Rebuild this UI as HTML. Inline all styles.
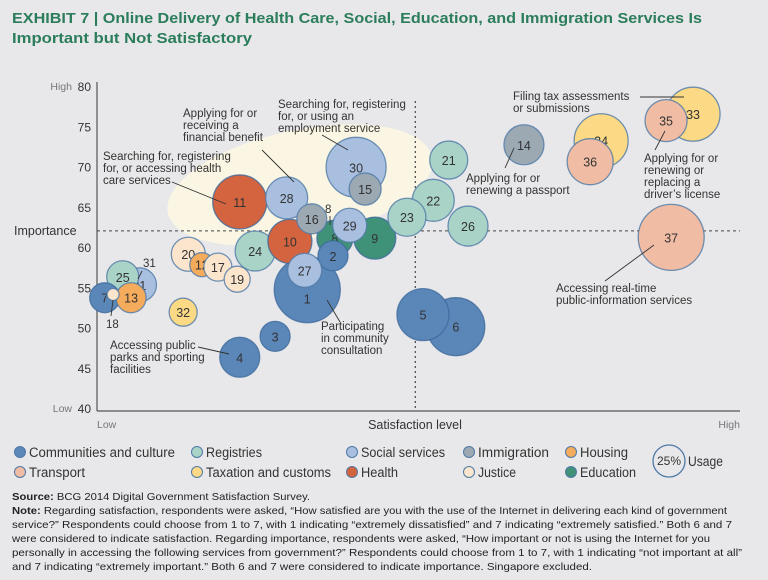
<!DOCTYPE html>
<html><head><meta charset="utf-8"><style>
body{margin:0;background:#e8e8ea;}
svg{display:block;font-family:"Liberation Sans",sans-serif;}
</style></head><body>
<svg id="chart" width="768" height="580" viewBox="0 0 768 580" xmlns="http://www.w3.org/2000/svg">
<rect width="768" height="580" fill="#e8e8ea"/>
<g fill="#2b7d5b" font-weight="bold" font-size="15">
<text x="12" y="23" textLength="690" lengthAdjust="spacingAndGlyphs">EXHIBIT 7 | Online Delivery of Health Care, Social, Education, and Immigration Services Is</text>
<text x="12" y="43" textLength="240" lengthAdjust="spacingAndGlyphs">Important but Not Satisfactory</text>
</g>
<ellipse cx="300" cy="185" rx="135" ry="55" transform="rotate(-12 300 185)" fill="#fbf6e3"/>
<g id="axes"></g>
<g id="bubbles"></g>
<g id="annot" font-size="11.5" fill="#333"></g>
<g id="legend"></g>
<g font-size="10.5" fill="#222">
<text x="12" y="500" textLength="298" lengthAdjust="spacingAndGlyphs"><tspan font-weight="bold">Source:</tspan> BCG 2014 Digital Government Satisfaction Survey.</text>
<text x="12" y="514" textLength="715" lengthAdjust="spacingAndGlyphs"><tspan font-weight="bold">Note:</tspan> Regarding satisfaction, respondents were asked, “How satisfied are you with the use of the Internet in delivering each kind of government</text>
<text x="12" y="528" textLength="720" lengthAdjust="spacingAndGlyphs">service?” Respondents could choose from 1 to 7, with 1 indicating “extremely dissatisfied” and 7 indicating “extremely satisfied.” Both 6 and 7</text>
<text x="12" y="542" textLength="698" lengthAdjust="spacingAndGlyphs">were considered to indicate satisfaction. Regarding importance, respondents were asked, “How important or not is using the Internet for you</text>
<text x="12" y="556" textLength="730" lengthAdjust="spacingAndGlyphs">personally in accessing the following services from government?” Respondents could choose from 1 to 7, with 1 indicating “not important at all”</text>
<text x="12" y="570" textLength="580" lengthAdjust="spacingAndGlyphs">and 7 indicating “extremely important.” Both 6 and 7 were considered to indicate importance. Singapore excluded.</text>
</g>
</svg>
<script>
const ids = [1,2,3,4,5,6,7,8,9,10,11,12,13,14,15,16,17,18,19,20,21,22,23,24,25,26,27,28,29,30,31,32,33,34,35,36,37];
const satisfaction = [32.7,36.7,27.7,22.2,50.7,55.8,1.2,37.0,43.2,30.0,22.2,16.3,5.3,66.4,41.7,33.4,18.8,2.5,21.8,14.2,54.7,52.3,48.2,24.6,4.0,57.7,32.3,29.5,39.3,40.3,6.6,13.4,92.7,78.4,88.5,76.7,89.3];
const importance = [54.7,58.9,48.9,46.3,51.6,50.1,53.7,61.1,61.1,60.7,65.6,57.8,53.7,72.7,67.2,63.5,57.5,54.1,56.0,59.1,70.8,65.8,63.7,59.5,56.3,62.6,57.1,66.1,62.7,69.9,55.3,51.9,76.5,73.2,75.7,70.6,61.2];
const usage = [33,15,15,20,26,29,15,18,21,22,27,12,15,20,16,15,14,6,13,17,19,21,19,20,16,20,17,21,17,30,17,14,27,27,21,23,33];
const category = ["comm","comm","comm","comm","comm","comm","comm","edu","edu","health","health","housing","housing","imm","imm","imm","justice","justice","justice","justice","reg","reg","reg","reg","reg","reg","soc","soc","soc","soc","soc","tax","tax","tax","trans","trans","trans"];
const yTicks = [40,45,50,55,60,65,70,75,80];
const catNames = ["Communities and culture","Registries","Social services","Immigration","Housing","Transport","Taxation and customs","Health","Justice","Education"];
const catKeys = ["comm","reg","soc","imm","housing","trans","tax","health","justice","edu"];
const catTextLen = [146,56,84,71,48,56,125,37,38,56];
const colors = {comm:"#5b86b8",reg:"#a9d3c6",soc:"#a9bfe0",imm:"#9ca8b2",housing:"#f4ab5c",trans:"#f0bca4",tax:"#fbd985",health:"#d4643f",justice:"#fbe5cd",edu:"#3f9178"};
const NS="http://www.w3.org/2000/svg";
const X0=97,X1=740,Y0=408,Y1=86;
const xs=v=>X0+(X1-X0)*v/100;
const ys=v=>Y0-(Y0-Y1)*(v-40)/40;
function mk(tag,attrs,parent,txt){const e=document.createElementNS(NS,tag);for(const k in attrs)e.setAttribute(k,attrs[k]);if(txt!=null)e.textContent=txt;parent.appendChild(e);return e;}
const axes=document.getElementById('axes');
let e;
e=mk('line',{x1:X0,y1:ys(80)-4,x2:X0,y2:411,stroke:'#555','stroke-width':1.2},axes);


e=mk('line',{x1:X0,y1:411,x2:X1,y2:411,stroke:'#555','stroke-width':1.2},axes);


yTicks.forEach(t=>{
 e=mk('text',{x:91,y:ys(t)+5,'text-anchor':'end','font-size':12,fill:'#333'},axes,String(t));
 
 
});
e=mk('line',{x1:X0,y1:ys(62),x2:X1,y2:ys(62),stroke:'#444','stroke-dasharray':'3,3'},axes);


e=mk('line',{x1:xs(49.5),y1:101,x2:xs(49.5),y2:411,stroke:'#444','stroke-dasharray':'2,3','stroke-width':1.2},axes);


[[ 'High',72,90,'end','y-high-label'],['Low',72,412,'end','y-low-label'],['Low',97,428,'start','x-low-label'],['High',740,428,'end','x-high-label']].forEach(a=>{
 e=mk('text',{x:a[1],y:a[2],'text-anchor':a[3],'font-size':10.5,fill:'#777'},axes,a[0]);
 
 
});
e=mk('text',{x:14,y:235,'font-size':12.5,fill:'#333'},axes,'Importance');


e=mk('text',{x:415,y:429,'text-anchor':'middle','font-size':12.5,fill:'#333'},axes,'Satisfaction level');



const order=[30,1,37,6,5,33,34,11,24,20,31,25,7,13,18,10,28,8,9,29,2,27,36,35,15,16,12,17,19,32,3,4,14,21,22,26,23];
const bg=document.getElementById('bubbles');
order.forEach(id=>{
 const i=ids.indexOf(id);
 const g=mk('g',{},bg);
 
 
 const dark=category[i]==='comm'||category[i]==='edu'||category[i]==='health';
 mk('circle',{cx:xs(satisfaction[i]),cy:ys(importance[i]),r:usage[i],fill:colors[category[i]],stroke:dark?'#3d6a9c':'#4f79a6','stroke-width':1.3,'stroke-opacity':0.8},g);
 if(id!==18){
  const dy = id===1 ? 14 : 5;
  mk('text',{x:xs(satisfaction[i]),y:ys(importance[i])+dy,'text-anchor':'middle','font-size':12.5,fill:'#333'},g,String(id));
 }
});
const an=document.getElementById('annot');
function note(lines,x,y,name,lx1,ly1,lx2,ly2){
 const g=mk('g',{},an);
 
 
 lines.forEach((l,k)=>mk('text',{x:x,y:y+k*12},g,l));
 if(lx1!=null) mk('line',{x1:lx1,y1:ly1,x2:lx2,y2:ly2,stroke:'#333','stroke-width':0.9},g);
}
note(['Searching for, registering','for, or using an','employment service'],278,108,'annotation-employment',322,135,348,150);
note(['Applying for or','receiving a','financial benefit'],183,117,'annotation-financial-benefit',262,150,294,182);
note(['Searching for, registering','for, or accessing health','care services'],103,160,'annotation-health-care',172,182,226,204);
note(['Accessing public','parks and sporting','facilities'],110,349,'annotation-parks',198,347,229,354);
note(['Participating','in community','consultation'],321,330,'annotation-consultation',327,300,340,322);
note(['Applying for or','renewing a passport'],466,182,'annotation-passport',505,168,514,148);
note(['Filing tax assessments','or submissions'],513,100,'annotation-tax',640,97,684,97);
note(['Applying for or','renewing or','replacing a',"driver’s license"],644,162,'annotation-drivers-license',655,150,665,131);
note(['Accessing real-time','public-information services'],556,292,'annotation-real-time',605,281,654,245);
note(['8'],325,213,'label-8',330,216,330,225);
note(['31'],143,267,'label-31',142,271,138,279);
note(['18'],106,328,'label-18',111,316,113,300);
const lg=document.getElementById('legend');
const lx=[20,197,352,469,571],lyy=[452,472];
catKeys.forEach((k,i)=>{
 const g=mk('g',{},lg);
 
 
 const x=lx[i%5],y=lyy[Math.floor(i/5)];
 mk('circle',{cx:x,cy:y,r:5.5,fill:colors[k],stroke:'#4f79a6','stroke-width':1},g);
 mk('text',{x:x+9,y:y+5,'font-size':13.5,fill:'#333',textLength:catTextLen[i],lengthAdjust:'spacingAndGlyphs'},g,catNames[i]);
});
const ug=mk('g',{},lg);


mk('circle',{cx:669,cy:461,r:16,fill:'none',stroke:'#4f79a6','stroke-width':1.3},ug);
mk('text',{x:669,y:465,'text-anchor':'middle','font-size':12,fill:'#333'},ug,'25%');
mk('text',{x:688,y:466,'font-size':13.5,fill:'#333',textLength:35,lengthAdjust:'spacingAndGlyphs'},ug,'Usage');
</script>
</body></html>
